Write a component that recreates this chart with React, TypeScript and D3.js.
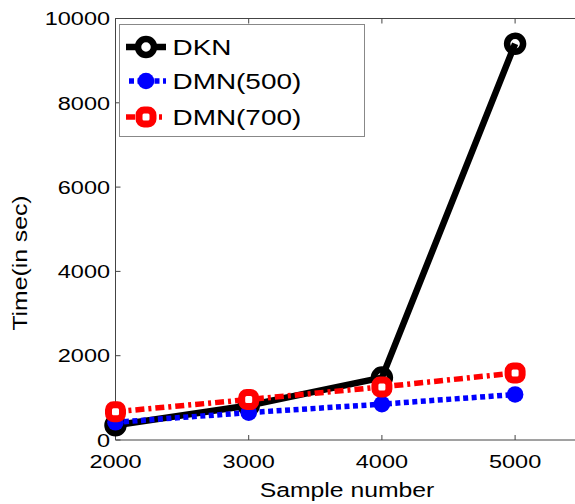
import React from "react";
import * as d3 from "d3";

const samples = [2000, 3000, 4000, 5000];
const dkn = [350, 820, 1480, 9400];
const dmn500 = [420, 650, 850, 1080];
const dmn700 = [670, 960, 1260, 1590];
const xTicks = [2000, 3000, 4000, 5000];
const yTicks = [0, 2000, 4000, 6000, 8000, 10000];
const seriesNames = ["DKN", "DMN(500)", "DMN(700)"];

const W = 575, H = 504;
const L = 115.5, T = 18.5, B = 440;
const SX = 1.27;
const FONT = "'Liberation Sans', Arial, sans-serif";

function Txt({ x, y, size, anchor, rotate, children }: any) {
  const tr = `translate(${x},${y})` + (rotate ? ` rotate(${rotate})` : "") + ` scale(${SX},1)`;
  return (
    <text transform={tr} fontSize={size} textAnchor={anchor || "start"} fontFamily={FONT} fill="#000">
      {children}
    </text>
  );
}

function Square({ cx, cy }: any) {
  return <rect x={cx - 7} y={cy - 7} width={14} height={14} rx={5} fill="#fff" stroke="#ff0000" strokeWidth={7} />;
}

export default function App() {
  const x = d3.scaleLinear().domain([2000, 5500]).range([L, L + 3500 * 0.1332]);
  const y = d3.scaleLinear().domain([0, 10000]).range([B, T]);
  const line = d3.line<number>().x((_, i) => x(samples[i])).y((d) => y(d));
  const R = x(5500);

  const legendY = [47, 81, 117];
  return (
    <svg width={W} height={H} style={{ position: "absolute", left: 0, top: 0, background: "#fff" }}>
      {/* axes box */}
      <g stroke="#444" strokeWidth={1} fill="none">
        <line x1={L} y1={T} x2={L} y2={B} />
        <line x1={L} y1={B} x2={R} y2={B} />
        <line x1={L} y1={T} x2={R} y2={T} />
        {xTicks.map((t) => (
          <g key={"xt" + t}>
            <line x1={x(t)} y1={B} x2={x(t)} y2={B - 5} />
            <line x1={x(t)} y1={T} x2={x(t)} y2={T + 5} />
          </g>
        ))}
        {yTicks.map((t) => (
          <g key={"yt" + t}>
            <line x1={L} y1={y(t)} x2={L + 5} y2={y(t)} />
          </g>
        ))}
      </g>
      {xTicks.map((t) => (
        <Txt key={"xl" + t} x={x(t)} y={468} size={18.5} anchor="middle">{t}</Txt>
      ))}
      {yTicks.map((t) => (
        <Txt key={"yl" + t} x={110} y={y(t) + 6.7} size={18.5} anchor="end">{t}</Txt>
      ))}
      <Txt x={347} y={497} size={19.5} anchor="middle">Sample number</Txt>
      <Txt x={27} y={263} size={19.5} anchor="middle" rotate={-90}>Time(in sec)</Txt>

      <g>
        {/* DKN */}
        <path d={line(dkn) || ""} fill="none" stroke="#000" strokeWidth={6.5} strokeLinejoin="round" />
        {dkn.map((v, i) => (
          <circle key={"k" + i} cx={x(samples[i])} cy={y(v)} r={8} fill="none" stroke="#000" strokeWidth={6.5} />
        ))}
        {/* DMN(500) */}
        <path d={line(dmn500) || ""} fill="none" stroke="#0000ff" strokeWidth={5.5} strokeDasharray="5,3.5" />
        {dmn500.map((v, i) => (
          <circle key={"b" + i} cx={x(samples[i])} cy={y(v)} r={8.3} fill="#0000ff" />
        ))}
        {/* DMN(700) */}
        <path d={line(dmn700) || ""} fill="none" stroke="#ff0000" strokeWidth={5.5} strokeDasharray="9,4,3,4" />
        {dmn700.map((v, i) => (
          <Square key={"r" + i} cx={x(samples[i])} cy={y(v)} />
        ))}
      </g>

      {/* legend */}
      <rect x={119.5} y={24.5} width={245} height={112} fill="#fff" stroke="#888" strokeWidth={1} />
      <g>
        <line x1={126} y1={legendY[0]} x2={166} y2={legendY[0]} stroke="#000" strokeWidth={6.5} />
        <circle cx={146} cy={legendY[0]} r={8} fill="#fff" stroke="#000" strokeWidth={6.5} />
        <line x1={129} y1={legendY[1]} x2={166} y2={legendY[1]} stroke="#0000ff" strokeWidth={5.5} strokeDasharray="5,3.5" />
        <circle cx={146} cy={legendY[1]} r={8.3} fill="#0000ff" />
        <line x1={126} y1={legendY[2]} x2={166} y2={legendY[2]} stroke="#ff0000" strokeWidth={5.5} strokeDasharray="9,4,3,4" />
        <Square cx={146} cy={legendY[2]} />
        {seriesNames.map((n, i) => (
          <Txt key={n} x={172.5} y={legendY[i] + 8} size={22}>{n}</Txt>
        ))}
      </g>
    </svg>
  );
}
